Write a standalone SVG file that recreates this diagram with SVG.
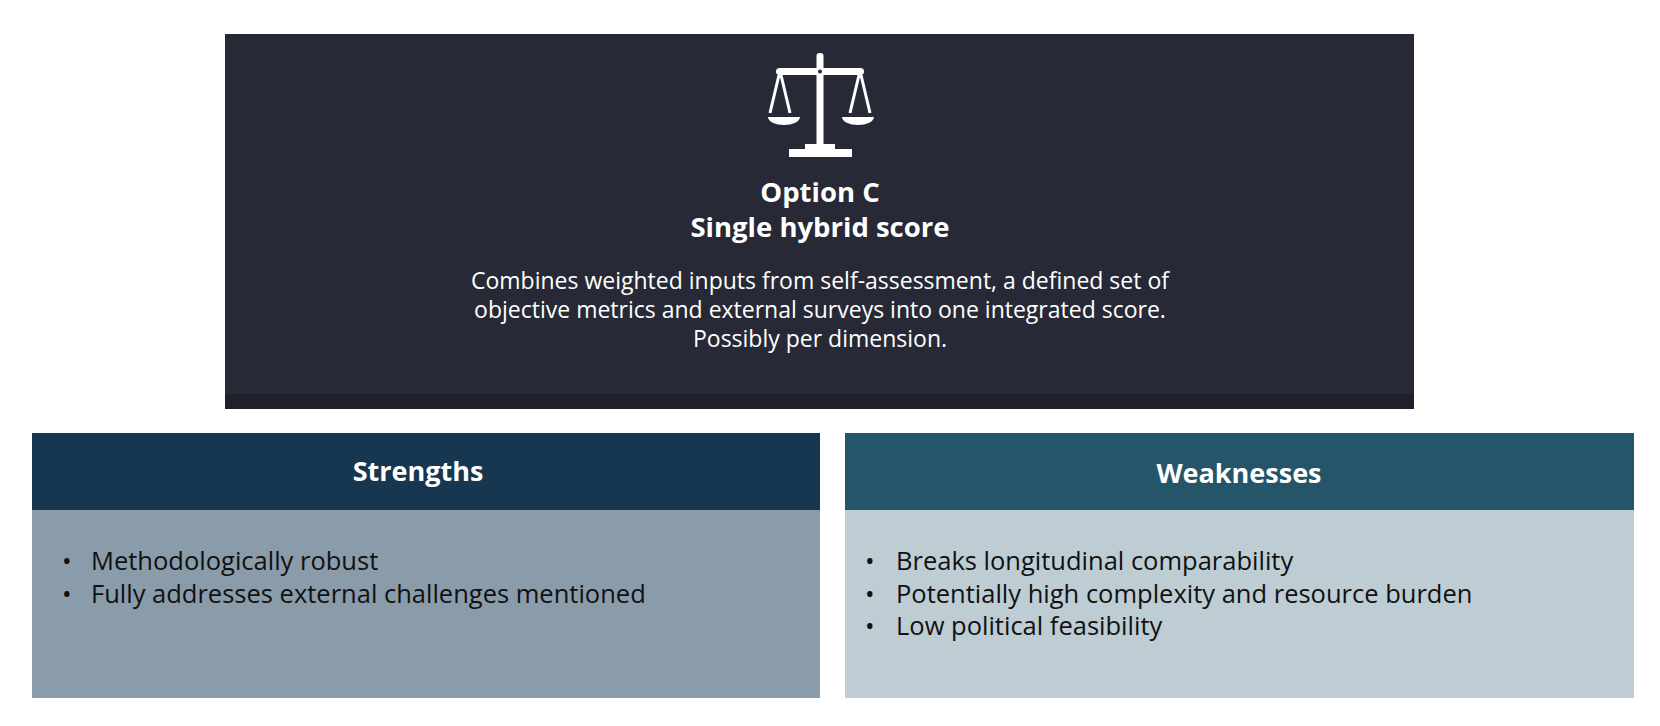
<svg xmlns="http://www.w3.org/2000/svg" width="1660" height="726" viewBox="0 0 1660 726">
<style>
text{font-family:"Open Sans","Noto Sans","Liberation Sans",sans-serif}
.t{fill:#fff;font-weight:bold;font-size:27.5px;text-anchor:middle}
.b{fill:#fff;font-size:23px;text-anchor:middle}
.h{fill:#fff;font-weight:bold;font-size:27px;text-anchor:middle}
.l{fill:#111;font-size:25.5px}
</style>
<rect width="1660" height="726" fill="#fff"/>
<g id="option-c">
<rect x="225" y="34" width="1189" height="375" fill="#272a36"/>
<rect x="225" y="394" width="1189" height="15" fill="#1f2029"/>
<g id="icon" fill="#fff" stroke="#fff">
<rect x="776" y="68" width="88" height="7" rx="3.5" stroke="none"/>
<rect x="816.5" y="53" width="7" height="94" rx="3" stroke="none"/>
<circle cx="820" cy="71.5" r="2" fill="#272a36" stroke="none"/>
<rect x="805" y="144" width="30" height="6" stroke="none"/>
<rect x="789" y="149" width="63" height="8" stroke="none"/>
<path d="M779 75 L770 113 M781 75 L790 113 M859 75 L850 113 M861 75 L870 113" stroke-width="3" fill="none"/>
<path d="M768 117 H800 A16 8 0 0 1 768 117 Z M842 117 H874 A16 8 0 0 1 842 117 Z" stroke="none"/>
</g>
<text class="t" x="820" y="202">Option C</text>
<text class="t" x="820" y="237">Single hybrid score</text>
<text class="b" x="820" y="289">Combines weighted inputs from self-assessment, a defined set of</text>
<text class="b" x="820" y="318">objective metrics and external surveys into one integrated score.</text>
<text class="b" x="820" y="347">Possibly per dimension.</text>
</g>
<g id="strengths">
<rect x="32" y="433" width="788" height="77" fill="#17364f"/>
<rect x="32" y="510" width="788" height="188" fill="#8a9baa"/>
<text class="h" x="418" y="481">Strengths</text>
<text class="l" x="62" y="570">•</text><text class="l" x="91" y="570">Methodologically robust</text>
<text class="l" x="62" y="603">•</text><text class="l" x="91" y="603">Fully addresses external challenges mentioned</text>
</g>
<g id="weaknesses">
<rect x="845" y="433" width="789" height="77" fill="#245569"/>
<rect x="845" y="510" width="789" height="188" fill="#becdd4"/>
<text class="h" x="1239" y="483">Weaknesses</text>
<text class="l" x="865" y="570">•</text><text class="l" x="896" y="570">Breaks longitudinal comparability</text>
<text class="l" x="865" y="603">•</text><text class="l" x="896" y="603">Potentially high complexity and resource burden</text>
<text class="l" x="865" y="635">•</text><text class="l" x="896" y="635">Low political feasibility</text>
</g>
<g id="connectors"/>
</svg>
